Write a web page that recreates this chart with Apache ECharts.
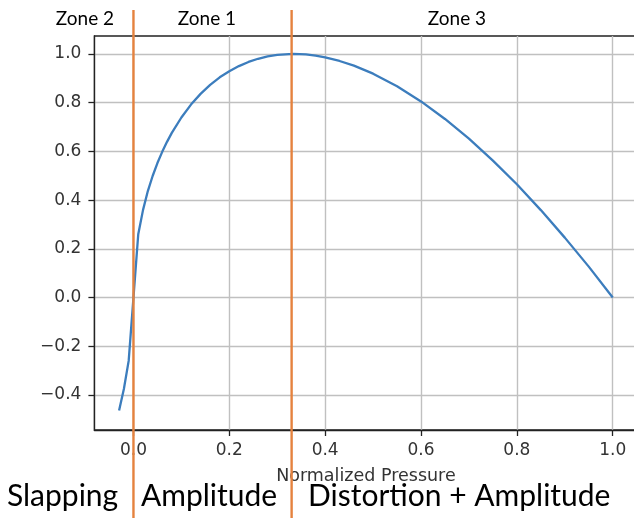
<!DOCTYPE html>
<html>
<head>
<meta charset="utf-8">
<script src="https://cdn.jsdelivr.net/npm/echarts@6/dist/echarts.min.js"></script>
<style>html,body{margin:0;padding:0;background:#fff;}#c{width:634px;height:518px;}</style>
</head>
<body>
<div id="c"></div>
<script>
// Data
const pressureX = [-0.03, -0.02, -0.01, 0.0, 0.01, 0.02, 0.03, 0.04, 0.05, 0.06, 0.07, 0.08, 0.10, 0.12, 0.14, 0.16, 0.18, 0.20, 0.22, 0.24, 0.26, 0.28, 0.30, 0.333, 0.36, 0.38, 0.40, 0.43, 0.46, 0.50, 0.55, 0.60, 0.65, 0.70, 0.75, 0.80, 0.85, 0.90, 0.95, 1.00];
const responseY = [-0.463, -0.375, -0.26, 0.0, 0.26, 0.360, 0.437, 0.499, 0.552, 0.598, 0.639, 0.676, 0.739, 0.792, 0.836, 0.873, 0.904, 0.929, 0.950, 0.967, 0.980, 0.990, 0.996, 1.0, 0.998, 0.993, 0.986, 0.971, 0.952, 0.919, 0.867, 0.805, 0.733, 0.652, 0.562, 0.465, 0.359, 0.246, 0.127, 0.0];
const xTicks = [0.0, 0.2, 0.4, 0.6, 0.8, 1.0];
const yTicks = [-0.4, -0.2, 0.0, 0.2, 0.4, 0.6, 0.8, 1.0];
const zoneBoundaries = [0.0, 0.33];
const zoneLabels = ['Zone 2', 'Zone 1', 'Zone 3'];
const regimeLabels = ['Slapping', 'Amplitude', 'Distortion + Amplitude'];
const xAxisTitle = 'Normalized Pressure';

const fmt = v => v.toFixed(1).replace('-', '\u2212');
const chart = echarts.init(document.getElementById('c'), null, {renderer: 'canvas'});
const tickFont = {fontFamily: 'DejaVu Sans', fontSize: 17, color: '#333'};

chart.setOption({
  animation: false,
  grid: {left: 94.4, width: 543, top: 36, height: 394, show: true, borderColor: '#222', borderWidth: 1.3,
         containLabel: false, outerBoundsMode: 'none'},
  xAxis: {
    type: 'value', min: -0.0815, max: 1.0515,
    name: xAxisTitle, nameLocation: 'middle', nameGap: 37,
    nameTextStyle: {fontFamily: 'DejaVu Sans', fontSize: 17.5, color: '#333'},
    axisLine: {show: true, onZero: false, lineStyle: {color: '#222', width: 1.3}},
    axisTick: {show: true, length: 6, customValues: xTicks, lineStyle: {color: '#222', width: 1.3}},
    axisLabel: Object.assign({customValues: xTicks, margin: 12, formatter: fmt}, tickFont),
    splitLine: {show: true, lineStyle: {color: '#c0c0c0', width: 1.4}}
  },
  yAxis: {
    type: 'value', min: -0.5435, max: 1.0735,
    axisLine: {show: true, onZero: false, lineStyle: {color: '#222', width: 1.3}},
    axisTick: {show: true, length: 6, customValues: yTicks, lineStyle: {color: '#222', width: 1.3}},
    axisLabel: Object.assign({customValues: yTicks, margin: 13, formatter: fmt}, tickFont),
    splitLine: {show: true, lineStyle: {color: '#c0c0c0', width: 1.4}}
  },
  series: [{
    type: 'line', showSymbol: false, smooth: false,
    data: pressureX.map((x, i) => [x, responseY[i]]),
    lineStyle: {color: '#3c7dbd', width: 2.3}, z: 3
  }]
});

const px = v => chart.convertToPixel({xAxisIndex: 0}, v);
const b0 = px(zoneBoundaries[0]), b1 = px(zoneBoundaries[1]);
const orange = '#e5823e';
const topFont = {fontFamily: 'Lato', fontSize: 19, fill: '#000'};
const botFont = {fontFamily: 'Lato', fontSize: 30, fill: '#000'};
chart.setOption({
  graphic: [
    {type: 'line', z: 100, shape: {x1: b0, y1: 10, x2: b0, y2: 518}, style: {stroke: orange, lineWidth: 2.4}},
    {type: 'line', z: 100, shape: {x1: b1, y1: 10, x2: b1, y2: 518}, style: {stroke: orange, lineWidth: 2.4}},
    {type: 'text', z: 50, x: 85, y: 28, style: Object.assign({text: zoneLabels[0], textAlign: 'center', textVerticalAlign: 'bottom'}, topFont)},
    {type: 'text', z: 50, x: 207, y: 28, style: Object.assign({text: zoneLabels[1], textAlign: 'center', textVerticalAlign: 'bottom'}, topFont)},
    {type: 'text', z: 50, x: 457, y: 28, style: Object.assign({text: zoneLabels[2], textAlign: 'center', textVerticalAlign: 'bottom'}, topFont)},
    {type: 'text', z: 50, x: 7, y: 511, style: Object.assign({text: regimeLabels[0], textAlign: 'left', textVerticalAlign: 'bottom'}, botFont)},
    {type: 'text', z: 50, x: 141, y: 511, style: Object.assign({text: regimeLabels[1], textAlign: 'left', textVerticalAlign: 'bottom'}, botFont)},
    {type: 'text', z: 50, x: 308, y: 511, style: Object.assign({text: regimeLabels[2], textAlign: 'left', textVerticalAlign: 'bottom'}, botFont)}
  ]
});
</script>
</body>
</html>
